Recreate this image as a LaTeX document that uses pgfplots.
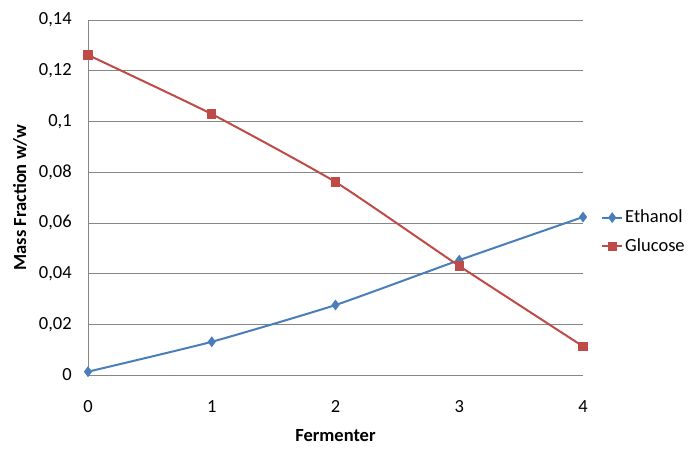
\documentclass[border=0pt]{standalone}
\usepackage{pgfplots}
\pgfplotsset{compat=1.18}
\usepackage{fontspec}
\setmainfont{Carlito}
\definecolor{ethblue}{RGB}{74,126,187}
\definecolor{glured}{RGB}{190,75,72}
\definecolor{gridgray}{RGB}{134,134,134}
\begin{document}
\fontsize{18.5bp}{22bp}\selectfont
\begin{tikzpicture}
\begin{axis}[
    name=ax,
    scale only axis,
    width=495bp, height=355bp,
    xmin=0, xmax=4, ymin=0, ymax=0.14,
    axis x line*=bottom, axis y line*=left,
    axis line style={gridgray, line width=0.8bp, -},
    xtick={0,1,2,3,4},
    ytick={0,0.02,0.04,0.06,0.08,0.1,0.12,0.14},
    yticklabels={0,{0,02},{0,04},{0,06},{0,08},{0,1},{0,12},{0,14}},
    major tick length=0,
    ymajorgrids=true,
    grid style={gridgray, line width=0.6bp},
    /pgf/number format/assume math mode=true,
    ticklabel style={font=\fontsize{18.5bp}{22bp}\selectfont},
    xticklabel style={yshift=-19bp},
    yticklabel style={xshift=-10bp},
    xlabel={\textbf{Fermenter}},
    ylabel={\textbf{Mass Fraction w/w}},
    xlabel style={at={(axis description cs:0.5,0)}, anchor=center, yshift=-61bp},
    ylabel style={at={(axis description cs:0,0.5)}, anchor=center, yshift=68bp},
    legend style={draw=none, fill=none, at={(1,0.403)}, anchor=west, xshift=18bp,
        font=\fontsize{18.5bp}{22bp}\selectfont, row sep=9bp,
        inner sep=0pt, legend cell align=left},
    legend image code/.code={\draw[mark repeat=2,mark phase=2] plot coordinates {(0bp,0bp) (10bp,0bp) (20bp,0bp)};},
]
\addplot[ethblue, line width=2bp, smooth, tension=0.3, mark=diamond*, mark size=3.8bp, mark options={solid, fill=ethblue}]
coordinates {(0,0.0013) (1,0.0131) (2,0.0276) (3,0.0453) (4,0.0623)};
\addlegendentry{Ethanol}
\addplot[glured, line width=2bp, smooth, tension=0.3, mark=square*, mark size=3.6bp, mark options={solid, fill=glured}]
coordinates {(0,0.1262) (1,0.1029) (2,0.0761) (3,0.0430) (4,0.0113)};
\addlegendentry{Glucose}
\end{axis}
\path[use as bounding box] ([xshift=-88bp,yshift=-70bp]ax.south west) rectangle ([xshift=105bp,yshift=20bp]ax.north east);
\end{tikzpicture}
\end{document}
